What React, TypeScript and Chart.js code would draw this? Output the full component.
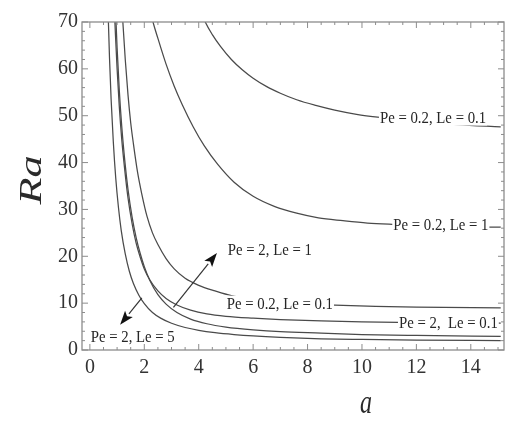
import React, { useEffect, useRef } from "react";
import { Chart, registerables } from "chart.js";

Chart.register(...registerables);

// ---- axis ticks ----
const X_TICKS = [0, 2, 4, 6, 8, 10, 12, 14];
const Y_TICKS = [0, 10, 20, 30, 40, 50, 60, 70];

// ---- curves (a, Ra) ----
const a_Pe2_Le5 = [0.64, 0.67, 0.72, 0.78, 0.86, 0.95, 1.05, 1.15, 1.3, 1.45, 1.6, 1.8, 2.0, 2.3, 2.6, 3.0, 3.5, 4.0, 4.6, 5.3, 6.0, 7.0, 8.5, 10, 12, 15.1];
const Ra_Pe2_Le5 = [78.7, 72, 62.5, 53.5, 44.5, 36.7, 30.4, 25.6, 20.5, 16.8, 14.2, 11.7, 9.9, 8.0, 6.8, 5.7, 4.8, 4.2, 3.7, 3.3, 3.0, 2.7, 2.4, 2.25, 2.1, 2.0];

const a_Pe2_Le01 = [0.86, 0.9, 0.95, 1.0, 1.08, 1.17, 1.28, 1.4, 1.55, 1.7, 1.85, 2.0, 2.2, 2.5, 2.8, 3.2, 3.7, 4.3, 5.0, 6.0, 7.0, 8.5, 10, 12, 15.1];
const Ra_Pe2_Le01 = [79, 72.5, 66, 60, 52, 45, 38.5, 32.5, 27, 22.8, 19.8, 17.3, 15.0, 12.6, 11.0, 9.6, 8.5, 7.7, 7.2, 6.8, 6.5, 6.2, 6.0, 5.85, 5.75];

const a_Pe2_Le1 = [0.9, 0.95, 1.0, 1.08, 1.17, 1.29, 1.4, 1.55, 1.7, 1.85, 2.0, 2.2, 2.5, 2.8, 3.2, 3.7, 4.3, 5.0, 6.0, 7.0, 8.5, 10, 12, 15.1];
const Ra_Pe2_Le1 = [79, 71.5, 64.5, 55.5, 47.8, 40, 34.3, 28.4, 24.0, 20.6, 17.8, 14.9, 11.8, 9.8, 8.0, 6.6, 5.6, 4.9, 4.3, 3.9, 3.6, 3.3, 3.1, 2.9];

const a_Pe02_Le01_low = [1.12, 1.2, 1.3, 1.4, 1.5, 1.6, 1.75, 1.9, 2.1, 2.3, 2.5, 2.8, 3.1, 3.5, 4.0, 4.6, 5.2, 6, 7, 8, 9, 10.5, 12, 15.1];
const Ra_Pe02_Le01_low = [80, 71, 62, 54.5, 48.5, 44, 38, 33.5, 28.5, 25.0, 22.5, 19.5, 17.3, 15.3, 13.8, 12.6, 11.6, 10.9, 10.3, 9.9, 9.6, 9.3, 9.15, 9.0];

const a_Pe02_Le1 = [2.2, 2.32, 2.5, 2.8, 3.1, 3.4, 3.8, 4.2, 4.7, 5.3, 6.0, 6.8, 7.6, 8.4, 9.3, 10.2, 11.2, 12.5, 14, 15.1];
const Ra_Pe02_Le1 = [73, 70, 66.5, 61, 56.3, 52.3, 47.6, 43.6, 39.6, 35.8, 32.8, 30.6, 29.2, 28.2, 27.6, 27.1, 26.8, 26.5, 26.3, 26.2];

const a_Pe02_Le01_top = [4.0, 4.24, 4.5, 4.8, 5.2, 5.6, 6.0, 6.5, 7.0, 7.6, 8.3, 9.0, 9.8, 10.7, 12, 13.5, 15.1];
const Ra_Pe02_Le01_top = [73.5, 70, 67.3, 64.8, 62, 59.8, 58, 56.2, 54.8, 53.4, 52.2, 51.2, 50.3, 49.6, 48.8, 48.1, 47.6];

const CURVE_A = [a_Pe2_Le5, a_Pe2_Le01, a_Pe2_Le1, a_Pe02_Le01_low, a_Pe02_Le1, a_Pe02_Le01_top];
const CURVE_RA = [Ra_Pe2_Le5, Ra_Pe2_Le01, Ra_Pe2_Le1, Ra_Pe02_Le01_low, Ra_Pe02_Le1, Ra_Pe02_Le01_top];

// ---- in-plot labels ----
const LABEL_TEXTS = ["Pe = 0.2, Le = 0.1", "Pe = 0.2, Le = 1", "Pe = 2, Le = 1", "Pe = 0.2, Le = 0.1", "Pe = 2,  Le = 0.1", "Pe = 2, Le = 5"];
const LABEL_A = [10.66, 11.15, 5.07, 5.03, 11.36, 0.03];
const LABEL_RA = [49.6, 26.8, 21.4, 9.9, 5.8, 2.95];
const LABEL_BOX = [true, true, false, true, true, false];

// ---- arrows ----
const ARROW_FROM_A = [3.07, 1.91];
const ARROW_FROM_RA = [9.1, 11.1];
const ARROW_TO_A = [4.67, 1.11];
const ARROW_TO_RA = [20.7, 5.4];

const SERIF = "'Liberation Serif', serif";

const decorPlugin = {
  id: "decor",
  afterDatasetsDraw(chart: any) {
    const ctx: CanvasRenderingContext2D = chart.ctx;
    const { left, right, top, bottom } = chart.chartArea;
    const xs = chart.scales.x;
    const ys = chart.scales.y;
    ctx.save();

    // labels
    ctx.font = `17px ${SERIF}`;
    ctx.textBaseline = "middle";
    ctx.textAlign = "left";
    const sx = 0.87;
    for (let i = 0; i < LABEL_TEXTS.length; i++) {
      const px = xs.getPixelForValue(LABEL_A[i]);
      const py = ys.getPixelForValue(LABEL_RA[i]);
      const w = ctx.measureText(LABEL_TEXTS[i]).width * sx;
      if (LABEL_BOX[i]) {
        ctx.fillStyle = "#ffffff";
        ctx.fillRect(px - 1, py - 8, Math.min(w + 2, right - px), 16);
      }
      ctx.save();
      ctx.translate(px, py + 1);
      ctx.scale(sx, 1);
      ctx.fillStyle = "#262626";
      ctx.fillText(LABEL_TEXTS[i], 0, 0);
      ctx.restore();
    }

    // arrows
    ctx.strokeStyle = "#333";
    ctx.fillStyle = "#111";
    ctx.lineWidth = 1.2;
    for (let i = 0; i < ARROW_FROM_A.length; i++) {
      const x0 = xs.getPixelForValue(ARROW_FROM_A[i]);
      const y0 = ys.getPixelForValue(ARROW_FROM_RA[i]);
      const x1 = xs.getPixelForValue(ARROW_TO_A[i]);
      const y1 = ys.getPixelForValue(ARROW_TO_RA[i]);
      const ang = Math.atan2(y1 - y0, x1 - x0);
      const L = 14, W = 5;
      const bx = x1 - L * Math.cos(ang);
      const by = y1 - L * Math.sin(ang);
      ctx.beginPath();
      ctx.moveTo(x0, y0);
      ctx.lineTo(bx, by);
      ctx.stroke();
      ctx.beginPath();
      ctx.moveTo(x1, y1);
      ctx.lineTo(bx + W * Math.sin(ang), by - W * Math.cos(ang));
      ctx.lineTo(bx + 3 * Math.cos(ang), by + 3 * Math.sin(ang));
      ctx.lineTo(bx - W * Math.sin(ang), by + W * Math.cos(ang));
      ctx.closePath();
      ctx.fill();
    }

    // frame
    ctx.strokeStyle = "#8c8c8c";
    ctx.lineWidth = 1.3;
    ctx.strokeRect(left, top, right - left, bottom - top);

    // inward ticks
    ctx.lineWidth = 1;
    ctx.strokeStyle = "#8c8c8c";
    ctx.beginPath();
    for (let v = 0; v <= 15.0001; v += 0.5) {
      const p = xs.getPixelForValue(v);
      const major = Math.abs(v / 2 - Math.round(v / 2)) < 1e-6;
      const len = major ? 6 : 3;
      ctx.moveTo(p, bottom); ctx.lineTo(p, bottom - len);
      ctx.moveTo(p, top); ctx.lineTo(p, top + len);
    }
    for (let v = 0; v <= 70.0001; v += 2) {
      const p = ys.getPixelForValue(v);
      const major = v % 10 === 0;
      const len = major ? 6 : 3;
      ctx.moveTo(left, p); ctx.lineTo(left + len, p);
      ctx.moveTo(right, p); ctx.lineTo(right - len, p);
    }
    ctx.stroke();

    // axis titles
    ctx.fillStyle = "#2a2a2a";
    ctx.textAlign = "center";
    ctx.textBaseline = "middle";
    ctx.font = `italic 32px ${SERIF}`;
    ctx.save();
    ctx.translate(33, 180);
    ctx.rotate(-Math.PI / 2);
    ctx.scale(1.38, 1);
    ctx.fillText("Ra", 0, 0);
    ctx.restore();

    ctx.font = `italic 24px ${SERIF}`;
    ctx.save();
    ctx.translate(366, 404);
    ctx.scale(1, 1.4);
    ctx.fillText("a", 0, 0);
    ctx.restore();

    ctx.restore();
  },
};

export default function App() {
  const ref = useRef<HTMLCanvasElement | null>(null);
  useEffect(() => {
    if (!ref.current) return;
    const datasets = CURVE_A.map((arr, k) => ({
      data: arr.map((x, i) => ({ x, y: CURVE_RA[k][i] })),
      borderColor: "#4a4a4a",
      borderWidth: 1.25,
      pointRadius: 0,
      fill: false,
      cubicInterpolationMode: "monotone" as const,
    }));
    const chart = new Chart(ref.current, {
      type: "line",
      data: { datasets },
      options: {
        animation: false,
        responsive: false,
        events: [],
        layout: { padding: { top: 22, right: 7, left: 0, bottom: 0 } },
        plugins: { legend: { display: false }, tooltip: { enabled: false } },
        scales: {
          x: {
            type: "linear",
            min: -0.29,
            max: 15.22,
            grid: { display: false, drawTicks: false },
            border: { display: false },
            ticks: { font: { family: SERIF, size: 20 }, color: "#333", padding: 6, maxRotation: 0 },
            afterBuildTicks: (s: any) => { s.ticks = X_TICKS.map((v) => ({ value: v })); },
            afterFit: (s: any) => { s.height = 78; },
          },
          y: {
            type: "linear",
            min: 0,
            max: 70,
            grid: { display: false, drawTicks: false },
            border: { display: false },
            ticks: { font: { family: SERIF, size: 20 }, color: "#333", padding: 4 },
            afterBuildTicks: (s: any) => { s.ticks = Y_TICKS.map((v) => ({ value: v })); },
            afterFit: (s: any) => { s.width = 82; },
          },
        },
      },
      plugins: [decorPlugin],
    });
    return () => chart.destroy();
  }, []);
  return (
    <div style={{ position: "fixed", left: 0, top: 0, width: 511, height: 428, background: "#fff" }}>
      <canvas ref={ref} width={511} height={428} style={{ display: "block" }} />
    </div>
  );
}
